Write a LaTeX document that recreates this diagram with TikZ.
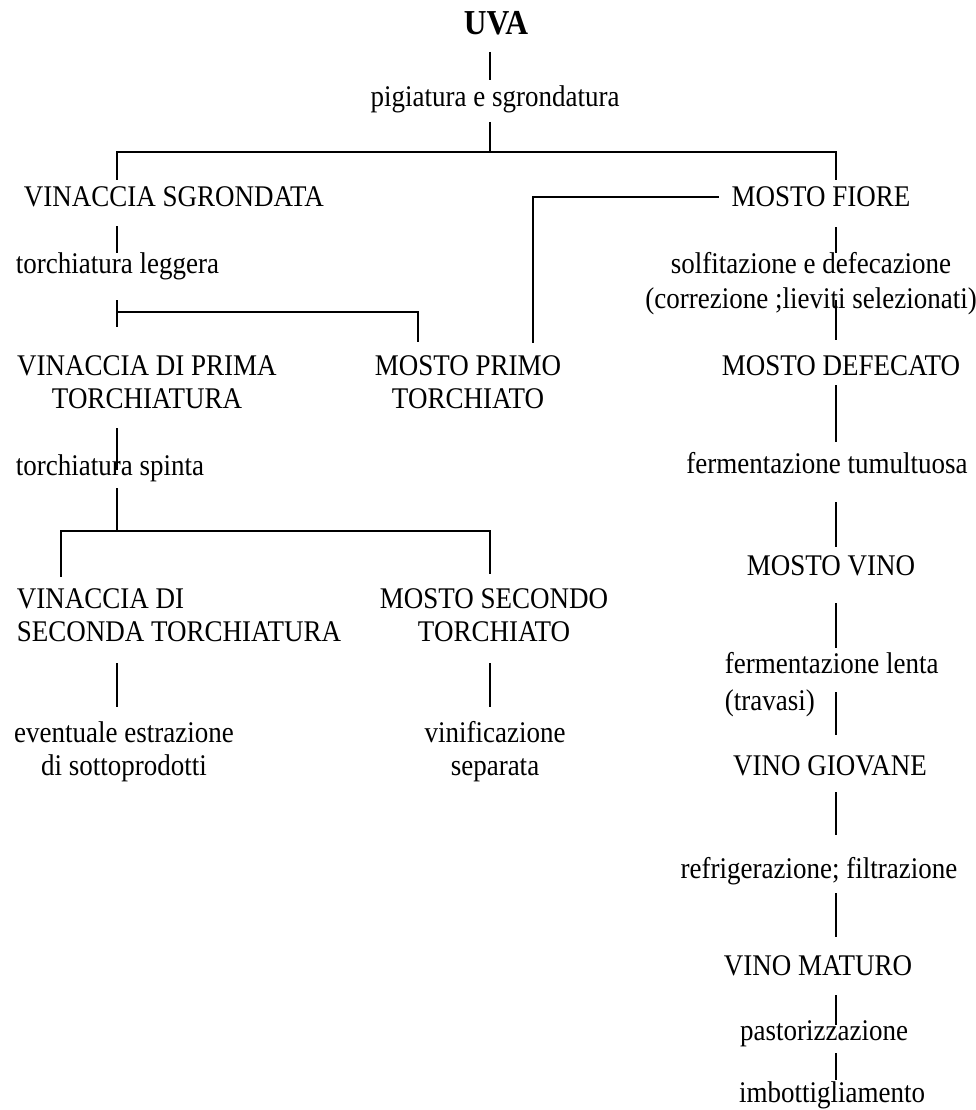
\documentclass[tikz,border=0pt]{standalone}
\usepackage{fontspec}
\setmainfont{Liberation Serif}[FakeStretch=0.9]
\usetikzlibrary{positioning}

\begin{document}
\begin{tikzpicture}[x=1pt,y=-1pt,line width=1.8pt,
    lab/.style={inner sep=0pt,anchor=base,align=center,font=\fontsize{30}{33}\selectfont},
    labl/.style={lab,anchor=base west,align=left},
    titolo/.style={inner sep=0pt,anchor=base,font=\fontsize{35}{40}\selectfont\bfseries}]

            %\draw [help lines] (0,0) grid [step=100] (976,1110);
            \useasboundingbox (0,0) rectangle (976,1110);

            % multi-line labels sit on the baseline of their last line
            \path   (496,35)   node (uva) [titolo] {UVA}
                    (495,107)  node (pig) [lab] {pigiatura e sgrondatura}
                    (23,207)   node (vsg) [labl] {VINACCIA SGRONDATA}
                    (821,207)  node (mfi) [lab] {MOSTO FIORE}
                    (15,273)   node (tle) [labl] {torchiatura leggera}
                    (811,308)  node (sol) [lab] {solfitazione e defecazione\\[2pt](correzione ;lieviti selezionati)}
                    (147,408)  node (vdp) [lab] {VINACCIA DI PRIMA\\TORCHIATURA}
                    (468,408)  node (mpt) [lab] {MOSTO PRIMO\\TORCHIATO}
                    (841,375)  node (mde) [lab] {MOSTO DEFECATO}
                    (15,475)   node (tsp) [labl] {torchiatura spinta}
                    (827,473)  node (fet) [lab] {fermentazione tumultuosa}
                    (831,575)  node (mvi) [lab] {MOSTO VINO}
                    (16,641)   node (vds) [labl] {VINACCIA DI\\SECONDA TORCHIATURA}
                    (494,641)  node (mse) [lab] {MOSTO SECONDO\\TORCHIATO}
                    (724,710)  node (fle) [labl] {fermentazione lenta\\[4pt](travasi)}
                    (124,775)  node (eve) [lab] {eventuale estrazione\\di sottoprodotti}
                    (495,775)  node (vin) [lab] {vinificazione\\separata}
                    (830,775)  node (vgi) [lab] {VINO GIOVANE}
                    (819,878)  node (ref) [lab] {refrigerazione; filtrazione}
                    (818,975)  node (vma) [lab] {VINO MATURO}
                    (824,1040) node (pas) [lab] {pastorizzazione}
                    (832,1102) node (imb) [lab] {imbottigliamento};

            % columns of the lines and the branch points
            \coordinate (xu) at (490,0);
            \coordinate (xl) at (117,0);
            \coordinate (xr) at (836,0);
            \coordinate (xp) at (418,0);
            \coordinate (xm) at (533,0);
            \coordinate (xs) at (61,0);
            \coordinate (j1) at (490,152);
            \coordinate (j2) at (117,312);
            \coordinate (j3) at (117,531);

            \draw[shorten <=17pt,shorten >=27pt] (uva.base -| xu) -- (pig.base -| xu);
            \draw[shorten <=15pt] (pig.base -| xu) -- (j1);
            \draw[shorten >=27pt] (j1) -| (vsg.base -| xl);
            \draw[shorten >=27pt] (j1) -| (mfi.base -| xr);

            % left branch
            \draw[shorten <=19pt,shorten >=20pt] (vsg.base -| xl) -- (tle.base -| xl);
            \draw[shorten <=27pt,shorten >=81pt] (tle.base -| xl) -- (vdp.base -| xl);
            \draw[shorten >=66pt] (j2) -| (mpt.base -| xp);
            \draw[shorten <=12pt,shorten >=65pt] (mfi.west) -| (mpt.base -| xm);
            \draw[shorten <=20pt,shorten >=5pt] (vdp.base -| xl) -- (tsp.base -| xl);
            \draw[shorten <=13pt] (tsp.base -| xl) -- (j3);
            \draw[shorten >=64pt] (j3) -| (vds.base -| xs);
            \draw[shorten >=67pt] (j3) -| (mse.base -| xu);
            \draw[shorten <=22pt,shorten >=68pt] (vds.base -| xl) -- (eve.base -| xl);
            \draw[shorten <=22pt,shorten >=68pt] (mse.base -| xu) -- (vin.base -| xu);

            % right branch
            \draw[shorten <=20pt,shorten >=55pt] (mfi.base -| xr) -- (sol.base -| xr);
            \draw[shorten <=-8pt,shorten >=35pt] (sol.base -| xr) -- (mde.base -| xr);
            \draw[shorten <=10pt,shorten >=31pt] (mde.base -| xr) -- (fet.base -| xr);
            \draw[shorten <=29pt,shorten >=28pt] (fet.base -| xr) -- (mvi.base -| xr);
            \draw[shorten <=28pt,shorten >=62pt] (mvi.base -| xr) -- (fle.base -| xr);
            \draw[shorten <=-18pt,shorten >=40pt] (fle.base -| xr) -- (vgi.base -| xr);
            \draw[shorten <=17pt,shorten >=43pt] (vgi.base -| xr) -- (ref.base -| xr);
            \draw[shorten <=15pt,shorten >=38pt] (ref.base -| xr) -- (vma.base -| xr);
            \draw[shorten <=20pt,shorten >=15pt] (vma.base -| xr) -- (pas.base -| xr);
            \draw[shorten <=13pt,shorten >=22pt] (pas.base -| xr) -- (imb.base -| xr);

\end{tikzpicture}
\end{document}
